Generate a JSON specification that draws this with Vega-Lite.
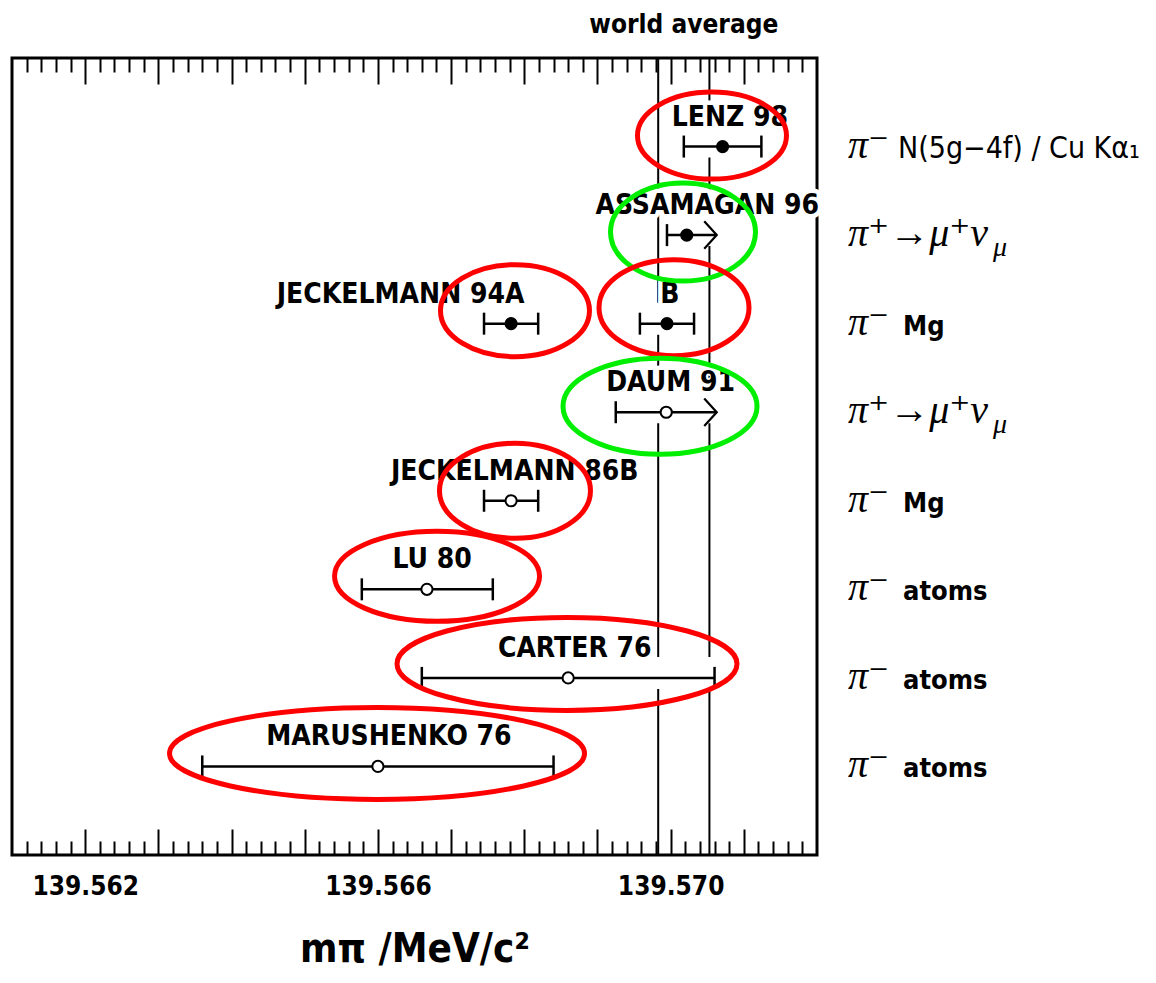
{
  "$schema": "https://vega.github.io/schema/vega-lite/v6.json",
  "width": 805,
  "height": 797,
  "autosize": {"type": "none"},
  "padding": {"left": 12, "top": 58, "right": 339, "bottom": 128},
  "background": "white",
  "config": {
    "view": {"stroke": "black", "strokeWidth": 3},
    "font": "Liberation Sans Narrow, DejaVu Sans Condensed, sans-serif",
    "axis": {"tickColor": "black", "tickWidth": 2, "domain": false, "grid": false, "labelColor": "black", "titleColor": "black"}
  },
  "datasets": {
    "measurements": [
      {"name": "LENZ 98", "row": 1, "lx": 139.57081, "m": 139.57071, "lo": 139.57018, "hi": 139.57124, "used": "yes", "limit": false},
      {"name": "ASSAMAGAN 96", "row": 2, "lx": 139.5705, "m": 139.57022, "lo": 139.56995, "hi": 139.57063, "used": "yes", "limit": true},
      {"name": "JECKELMANN 94A", "row": 3, "lx": 139.56631, "m": 139.56782, "lo": 139.56745, "hi": 139.56819, "used": "yes", "limit": false},
      {"name": "B", "row": 3, "lx": 139.56999, "m": 139.56995, "lo": 139.56958, "hi": 139.57032, "used": "yes", "limit": false},
      {"name": "DAUM 91", "row": 4, "lx": 139.57, "m": 139.56994, "lo": 139.56925, "hi": 139.57063, "used": "no", "limit": true},
      {"name": "JECKELMANN 86B", "row": 5, "lx": 139.56787, "m": 139.56782, "lo": 139.56745, "hi": 139.56819, "used": "no", "limit": false},
      {"name": "LU 80", "row": 6, "lx": 139.56674, "m": 139.56667, "lo": 139.56578, "hi": 139.56757, "used": "no", "limit": false},
      {"name": "CARTER 76", "row": 7, "lx": 139.56869, "m": 139.5686, "lo": 139.5666, "hi": 139.5706, "used": "no", "limit": false},
      {"name": "MARUSHENKO 76", "row": 8, "lx": 139.56615, "m": 139.566, "lo": 139.5636, "hi": 139.5684, "used": "no", "limit": false}
    ],
    "rings": [
      {"name": "LENZ 98", "kind": "X-ray", "m": 139.570565, "row": 0.876},
      {"name": "ASSAMAGAN 96", "kind": "decay", "m": 139.570169, "row": 1.966},
      {"name": "JECKELMANN 94A", "kind": "X-ray", "m": 139.567873, "row": 2.853},
      {"name": "B", "kind": "X-ray", "m": 139.570046, "row": 2.819},
      {"name": "DAUM 91", "kind": "decay", "m": 139.569855, "row": 3.932},
      {"name": "JECKELMANN 86B", "kind": "X-ray", "m": 139.567873, "row": 4.887},
      {"name": "LU 80", "kind": "X-ray", "m": 139.566808, "row": 5.853},
      {"name": "CARTER 76", "kind": "X-ray", "m": 139.568584, "row": 6.842},
      {"name": "MARUSHENKO 76", "kind": "X-ray", "m": 139.565988, "row": 7.853}
    ],
    "processes": [
      {"row": 1, "sym": "π⁻", "sub": "", "rest": "N(5g−4f) / Cu Kα₁"},
      {"row": 2, "sym": "π⁺→μ⁺ν", "sub": "μ", "rest": ""},
      {"row": 3, "sym": "π⁻", "sub": "", "rest": "Mg"},
      {"row": 4, "sym": "π⁺→μ⁺ν", "sub": "μ", "rest": ""},
      {"row": 5, "sym": "π⁻", "sub": "", "rest": "Mg"},
      {"row": 6, "sym": "π⁻", "sub": "", "rest": "atoms"},
      {"row": 7, "sym": "π⁻", "sub": "", "rest": "atoms"},
      {"row": 8, "sym": "π⁻", "sub": "", "rest": "atoms"}
    ],
    "average": [
      {"label": "world average", "lo": 139.56983, "mid": 139.57018, "hi": 139.57053}
    ]
  },
  "resolve": {"axis": {"x": "independent"}},
  "layer": [
    {
      "data": {"name": "average"},
      "mark": {"type": "rule", "color": "black", "strokeWidth": 2},
      "encoding": {
        "x": {"field": "lo", "type": "quantitative", "scale": {"domain": [139.561, 139.572], "nice": false, "zero": false},
          "axis": {"orient": "top", "values": [139.562, 139.563, 139.564, 139.565, 139.566, 139.567, 139.568, 139.569, 139.57, 139.571], "tickSize": -26, "labels": false, "title": null}}
      }
    },
    {
      "data": {"name": "average"},
      "mark": {"type": "rule", "color": "black", "strokeWidth": 2},
      "encoding": {
        "x": {"field": "hi", "type": "quantitative", "scale": {"domain": [139.561, 139.572], "nice": false, "zero": false},
          "axis": {"orient": "top", "values": [139.5612, 139.5614, 139.5616, 139.5618, 139.5622, 139.5624, 139.5626, 139.5628, 139.5632, 139.5634, 139.5636, 139.5638, 139.5642, 139.5644, 139.5646, 139.5648, 139.5652, 139.5654, 139.5656, 139.5658, 139.5662, 139.5664, 139.5666, 139.5668, 139.5672, 139.5674, 139.5676, 139.5678, 139.5682, 139.5684, 139.5686, 139.5688, 139.5692, 139.5694, 139.5696, 139.5698, 139.5702, 139.5704, 139.5706, 139.5708, 139.5712, 139.5714, 139.5716, 139.5718], "tickSize": -14, "labels": false, "title": null}}
      }
    },
    {
      "data": {"name": "measurements"},
      "mark": {"type": "rule", "stroke": "white", "strokeWidth": 32, "yOffset": -5},
      "encoding": {
        "x": {"field": "lo", "type": "quantitative", "scale": {"domain": [139.561, 139.572], "nice": false, "zero": false}, "axis": null},
        "x2": {"field": "hi"},
        "y": {"field": "row", "type": "quantitative", "scale": {"domain": [0, 9], "reverse": true, "nice": false, "zero": false}, "axis": null}
      }
    },
    {
      "data": {"name": "measurements"},
      "mark": {"type": "text", "fontWeight": "bold", "fontSize": 28, "align": "center", "baseline": "alphabetic", "dy": -21, "stroke": "white", "strokeWidth": 9, "strokeJoin": "round", "fill": "white"},
      "encoding": {
        "x": {"field": "lx", "type": "quantitative", "scale": {"domain": [139.561, 139.572], "nice": false, "zero": false}, "axis": null},
        "y": {"field": "row", "type": "quantitative", "scale": {"domain": [0, 9], "reverse": true, "nice": false, "zero": false}, "axis": null},
        "text": {"field": "name"}
      }
    },
    {
      "data": {"name": "measurements"},
      "mark": {"type": "rule", "color": "black", "strokeWidth": 2.5},
      "encoding": {
        "x": {"field": "lo", "type": "quantitative", "scale": {"domain": [139.561, 139.572], "nice": false, "zero": false},
          "axis": {"orient": "bottom", "values": [139.5612, 139.5614, 139.5616, 139.5618, 139.5622, 139.5624, 139.5626, 139.5628, 139.5632, 139.5634, 139.5636, 139.5638, 139.5642, 139.5644, 139.5646, 139.5648, 139.5652, 139.5654, 139.5656, 139.5658, 139.5662, 139.5664, 139.5666, 139.5668, 139.5672, 139.5674, 139.5676, 139.5678, 139.5682, 139.5684, 139.5686, 139.5688, 139.5692, 139.5694, 139.5696, 139.5698, 139.5702, 139.5704, 139.5706, 139.5708, 139.5712, 139.5714, 139.5716, 139.5718], "tickSize": -14, "labels": false, "title": null}},
        "x2": {"field": "hi"},
        "y": {"field": "row", "type": "quantitative", "scale": {"domain": [0, 9], "reverse": true, "nice": false, "zero": false}, "axis": null}
      }
    },
    {
      "data": {"name": "measurements"},
      "mark": {"type": "tick", "orient": "vertical", "size": 22, "thickness": 2.5, "color": "black", "opacity": 1},
      "encoding": {
        "x": {"field": "lo", "type": "quantitative", "scale": {"domain": [139.561, 139.572], "nice": false, "zero": false}, "axis": null},
        "y": {"field": "row", "type": "quantitative", "scale": {"domain": [0, 9], "reverse": true, "nice": false, "zero": false}, "axis": null}
      }
    },
    {
      "data": {"name": "measurements"},
      "transform": [{"filter": "!datum.limit"}],
      "mark": {"type": "tick", "orient": "vertical", "size": 22, "thickness": 2.5, "color": "black", "opacity": 1},
      "encoding": {
        "x": {"field": "hi", "type": "quantitative", "scale": {"domain": [139.561, 139.572], "nice": false, "zero": false}, "axis": null},
        "y": {"field": "row", "type": "quantitative", "scale": {"domain": [0, 9], "reverse": true, "nice": false, "zero": false}, "axis": null}
      }
    },
    {
      "data": {"name": "measurements"},
      "transform": [{"filter": "datum.limit"}],
      "mark": {"type": "point", "shape": "M-1,-1.1L0,0L-1,1.1", "size": 625, "filled": false, "color": "black", "strokeWidth": 2.2, "opacity": 1},
      "encoding": {
        "x": {"field": "hi", "type": "quantitative", "scale": {"domain": [139.561, 139.572], "nice": false, "zero": false}, "axis": null},
        "y": {"field": "row", "type": "quantitative", "scale": {"domain": [0, 9], "reverse": true, "nice": false, "zero": false}, "axis": null}
      }
    },
    {
      "data": {"name": "measurements"},
      "mark": {"type": "point", "shape": "circle", "size": 125, "filled": true, "stroke": "black", "strokeWidth": 2, "opacity": 1},
      "encoding": {
        "x": {"field": "m", "type": "quantitative", "scale": {"domain": [139.561, 139.572], "nice": false, "zero": false},
          "axis": {"orient": "bottom", "values": [139.562, 139.563, 139.564, 139.565, 139.566, 139.567, 139.568, 139.569, 139.57, 139.571], "tickSize": -26,
            "labelExpr": "indexof(['139.562','139.566','139.570'], format(datum.value, '.3f')) >= 0 ? format(datum.value, '.3f') : ''",
            "labelFontSize": 26, "labelFontWeight": "bold", "labelPadding": 44, "labelOverlap": false, "labelFlush": false, "labelBound": false,
            "title": "mπ /MeV/c²", "titleFontSize": 40, "titleFontWeight": "bold", "titlePadding": 30}},
        "y": {"field": "row", "type": "quantitative", "scale": {"domain": [0, 9], "reverse": true, "nice": false, "zero": false}, "axis": null},
        "fill": {"field": "used", "type": "nominal", "scale": {"domain": ["yes", "no"], "range": ["black", "white"]}, "legend": null}
      }
    },
    {
      "data": {"name": "measurements"},
      "mark": {"type": "text", "fontWeight": "bold", "fontSize": 28, "align": "center", "baseline": "alphabetic", "dy": -21, "color": "black"},
      "encoding": {
        "x": {"field": "lx", "type": "quantitative", "scale": {"domain": [139.561, 139.572], "nice": false, "zero": false}, "axis": null},
        "y": {"field": "row", "type": "quantitative", "scale": {"domain": [0, 9], "reverse": true, "nice": false, "zero": false}, "axis": null},
        "text": {"field": "name"}
      }
    },
    {
      "data": {"name": "rings"},
      "mark": {"type": "point", "filled": false, "size": 40000, "strokeWidth": 5, "opacity": 1},
      "encoding": {
        "x": {"field": "m", "type": "quantitative", "scale": {"domain": [139.561, 139.572], "nice": false, "zero": false}, "axis": null},
        "y": {"field": "row", "type": "quantitative", "scale": {"domain": [0, 9], "reverse": true, "nice": false, "zero": false}, "axis": null},
        "color": {"field": "kind", "type": "nominal", "scale": {"domain": ["X-ray", "decay"], "range": ["#ff0000", "#00ee00"]}, "legend": null},
        "shape": {"field": "name", "type": "nominal", "legend": null,
          "scale": {
            "domain": ["LENZ 98", "ASSAMAGAN 96", "JECKELMANN 94A", "B", "DAUM 91", "JECKELMANN 86B", "LU 80", "CARTER 76", "MARUSHENKO 76"],
            "range": [
              "M-0.745,0C-0.745,-0.2402,-0.4115,-0.435,0,-0.435C0.4115,-0.435,0.745,-0.2402,0.745,0C0.745,0.2402,0.4115,0.435,0,0.435C-0.4115,0.435,-0.745,0.2402,-0.745,0Z",
              "M-0.725,0C-0.725,-0.2706,-0.4004,-0.49,0,-0.49C0.4004,-0.49,0.725,-0.2706,0.725,0C0.725,0.2706,0.4004,0.49,0,0.49C-0.4004,0.49,-0.725,0.2706,-0.725,0Z",
              "M-0.745,0C-0.745,-0.2541,-0.4115,-0.46,0,-0.46C0.4115,-0.46,0.745,-0.2541,0.745,0C0.745,0.2541,0.4115,0.46,0,0.46C-0.4115,0.46,-0.745,0.2541,-0.745,0Z",
              "M-0.75,0C-0.75,-0.2651,-0.4142,-0.48,0,-0.48C0.4142,-0.48,0.75,-0.2651,0.75,0C0.75,0.2651,0.4142,0.48,0,0.48C-0.4142,0.48,-0.75,0.2651,-0.75,0Z",
              "M-0.97,0C-0.97,-0.2651,-0.5357,-0.48,0,-0.48C0.5357,-0.48,0.97,-0.2651,0.97,0C0.97,0.2651,0.5357,0.48,0,0.48C-0.5357,0.48,-0.97,0.2651,-0.97,0Z",
              "M-0.755,0C-0.755,-0.2623,-0.417,-0.475,0,-0.475C0.417,-0.475,0.755,-0.2623,0.755,0C0.755,0.2623,0.417,0.475,0,0.475C-0.417,0.475,-0.755,0.2623,-0.755,0Z",
              "M-1.025,0C-1.025,-0.2485,-0.5661,-0.45,0,-0.45C0.5661,-0.45,1.025,-0.2485,1.025,0C1.025,0.2485,0.5661,0.45,0,0.45C-0.5661,0.45,-1.025,0.2485,-1.025,0Z",
              "M-1.7,0C-1.7,-0.2568,-0.9389,-0.465,0,-0.465C0.9389,-0.465,1.7,-0.2568,1.7,0C1.7,0.2568,0.9389,0.465,0,0.465C-0.9389,0.465,-1.7,0.2568,-1.7,0Z",
              "M-2.075,0C-2.075,-0.2541,-1.146,-0.46,0,-0.46C1.146,-0.46,2.075,-0.2541,2.075,0C2.075,0.2541,1.146,0.46,0,0.46C-1.146,0.46,-2.075,0.2541,-2.075,0Z"
            ]
          }
        }
      }
    },
    {
      "data": {"name": "processes"},
      "mark": {"type": "text", "font": "Liberation Serif, DejaVu Serif, serif", "fontStyle": "italic", "fontSize": 40, "align": "left", "baseline": "alphabetic", "dx": 31, "dy": 11, "color": "black"},
      "encoding": {
        "x": {"datum": 139.572, "type": "quantitative", "scale": {"domain": [139.561, 139.572], "nice": false, "zero": false}, "axis": null},
        "y": {"field": "row", "type": "quantitative", "scale": {"domain": [0, 9], "reverse": true, "nice": false, "zero": false}, "axis": null},
        "text": {"field": "sym"}
      }
    },
    {
      "data": {"name": "processes"},
      "mark": {"type": "text", "font": "Liberation Serif, DejaVu Serif, serif", "fontStyle": "italic", "fontSize": 28, "align": "left", "baseline": "alphabetic", "dx": 176, "dy": 21, "color": "black"},
      "encoding": {
        "x": {"datum": 139.572, "type": "quantitative", "scale": {"domain": [139.561, 139.572], "nice": false, "zero": false}, "axis": null},
        "y": {"field": "row", "type": "quantitative", "scale": {"domain": [0, 9], "reverse": true, "nice": false, "zero": false}, "axis": null},
        "text": {"field": "sub"}
      }
    },
    {
      "data": {"name": "processes"},
      "transform": [{"filter": "datum.row > 1"}],
      "mark": {"type": "text", "fontWeight": "bold", "fontSize": 27, "align": "left", "baseline": "alphabetic", "dx": 86, "dy": 11, "color": "black"},
      "encoding": {
        "x": {"datum": 139.572, "type": "quantitative", "scale": {"domain": [139.561, 139.572], "nice": false, "zero": false}, "axis": null},
        "y": {"field": "row", "type": "quantitative", "scale": {"domain": [0, 9], "reverse": true, "nice": false, "zero": false}, "axis": null},
        "text": {"field": "rest"}
      }
    },
    {
      "data": {"name": "processes"},
      "transform": [{"filter": "datum.row == 1"}],
      "mark": {"type": "text", "fontWeight": "normal", "fontSize": 30, "align": "left", "baseline": "alphabetic", "dx": 81, "dy": 11, "color": "black"},
      "encoding": {
        "x": {"datum": 139.572, "type": "quantitative", "scale": {"domain": [139.561, 139.572], "nice": false, "zero": false}, "axis": null},
        "y": {"field": "row", "type": "quantitative", "scale": {"domain": [0, 9], "reverse": true, "nice": false, "zero": false}, "axis": null},
        "text": {"field": "rest"}
      }
    },
    {
      "data": {"name": "average"},
      "mark": {"type": "text", "fontWeight": "bold", "fontSize": 26, "align": "center", "baseline": "alphabetic", "dy": -25, "color": "black"},
      "encoding": {
        "x": {"field": "mid", "type": "quantitative", "scale": {"domain": [139.561, 139.572], "nice": false, "zero": false}, "axis": null},
        "y": {"datum": 0, "type": "quantitative", "scale": {"domain": [0, 9], "reverse": true, "nice": false, "zero": false}, "axis": null},
        "text": {"field": "label"}
      }
    }
  ]
}
